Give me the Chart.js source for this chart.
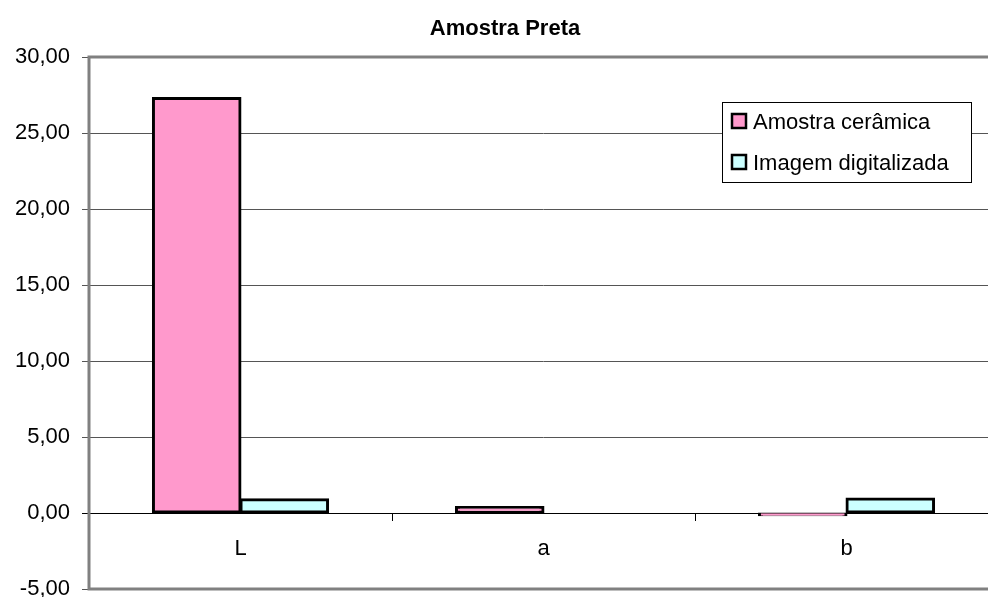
<!DOCTYPE html>
<html>
<head>
<meta charset="utf-8">
<script src="https://cdn.jsdelivr.net/npm/chart.js@4"></script>
<style>
  body { margin: 0; background: #fff; overflow: hidden; }
  #wrap { width: 1000px; height: 597px; }
</style>
</head>
<body>
<div id="wrap"><canvas id="myChart" width="1000" height="597"></canvas></div>
<script>
  const categorias = ['L', 'a', 'b'];
  const amostra_ceramica = [27.3, 0.4, -0.15];
  const imagem_digitalizada = [0.9, 0, 0.95];
  const nomes_series = ['Amostra cerâmica', 'Imagem digitalizada'];
  const cores = ['#FF99CC', '#CCFFFF'];

  const fonte = '"Liberation Sans", Arial, sans-serif';

  // moldura da área do gráfico (estilo Excel)
  const moldura = {
    id: 'moldura',
    afterDraw(chart) {
      const { ctx, chartArea: a } = chart;
      ctx.save();
      ctx.strokeStyle = '#808080';
      ctx.lineWidth = 3;
      ctx.beginPath();
      ctx.moveTo(a.right + 5, a.top);
      ctx.lineTo(a.left, a.top);
      ctx.lineTo(a.left, a.bottom);
      ctx.lineTo(a.right + 5, a.bottom);
      ctx.stroke();
      ctx.restore();
    }
  };

  // legenda dentro da área do gráfico
  const legenda = {
    id: 'legenda',
    afterDraw(chart) {
      const ctx = chart.ctx;
      const x = 722, y = 102, w = 249, h = 80;
      ctx.save();
      ctx.fillStyle = '#fff';
      ctx.fillRect(x, y, w, h);
      ctx.strokeStyle = '#000';
      ctx.lineWidth = 1;
      ctx.strokeRect(x + 0.5, y + 0.5, w, h);
      ctx.font = '22px ' + fonte;
      ctx.textBaseline = 'alphabetic';
      chart.data.datasets.forEach((ds, i) => {
        const base = y + 27 + i * 41;
        ctx.fillStyle = ds.backgroundColor;
        ctx.fillRect(x + 10, base - 15, 14, 14);
        ctx.lineWidth = 2.5;
        ctx.strokeStyle = '#000';
        ctx.strokeRect(x + 10, base - 15, 14, 14);
        ctx.fillStyle = '#000';
        ctx.fillText(ds.label, x + 31, base);
      });
      ctx.restore();
    }
  };

  const data = {
    labels: categorias,
    datasets: [{
      label: nomes_series[0],
      backgroundColor: cores[0],
      borderColor: '#000',
      borderWidth: 3,
      borderSkipped: false,
      inflateAmount: 1,
      data: amostra_ceramica,
    },
    {
      label: nomes_series[1],
      backgroundColor: cores[1],
      borderColor: '#000',
      borderWidth: 3,
      borderSkipped: false,
      inflateAmount: 1,
      data: imagem_digitalizada,
    }]
  };

  const config = {
    type: 'bar',
    data: data,
    options: {
      responsive: false,
      animation: false,
      layout: { padding: { left: 12, right: 2, top: 0, bottom: 8 } },
      datasets: {
        bar: { barPercentage: 1, categoryPercentage: 0.578 }
      },
      plugins: {
        legend: { display: false },
        tooltip: { enabled: false },
        title: {
          display: true,
          text: 'Amostra Preta',
          color: '#000',
          font: { family: fonte, size: 22, weight: 'bold' },
          padding: { top: 16, bottom: 14.6 }
        }
      },
      scales: {
        x: {
          position: { y: 0 },
          afterFit(scale) {
            scale.paddingLeft = 0;
            scale.paddingRight = 0;
            scale.paddingTop = 0;
            scale.paddingBottom = 0;
          },
          grid: {
            offset: true,
            drawOnChartArea: false,
            drawTicks: true,
            tickLength: 7,
            color: '#000'
          },
          border: { display: true, color: '#000', width: 1 },
          ticks: {
            color: '#000',
            padding: 16,
            font: { family: fonte, size: 22 }
          }
        },
        y: {
          min: -5,
          max: 30,
          afterFit(scale) {
            scale.width = 77;
            scale.paddingTop = 0;
            scale.paddingBottom = 0;
          },
          ticks: {
            stepSize: 5,
            color: '#000',
            padding: 12,
            font: { family: fonte, size: 22, lineHeight: 0.72 },
            callback: (v) => v.toFixed(2).replace('.', ',')
          },
          grid: {
            tickLength: 7,
            color: (c) => c.tick && c.tick.value === 0 ? '#000' : '#555',
            lineWidth: 1
          },
          border: { display: false }
        }
      }
    },
    plugins: [moldura, legenda]
  };

  const myChart = new Chart(
    document.getElementById('myChart'),
    config
  );
</script>
</body>
</html>
